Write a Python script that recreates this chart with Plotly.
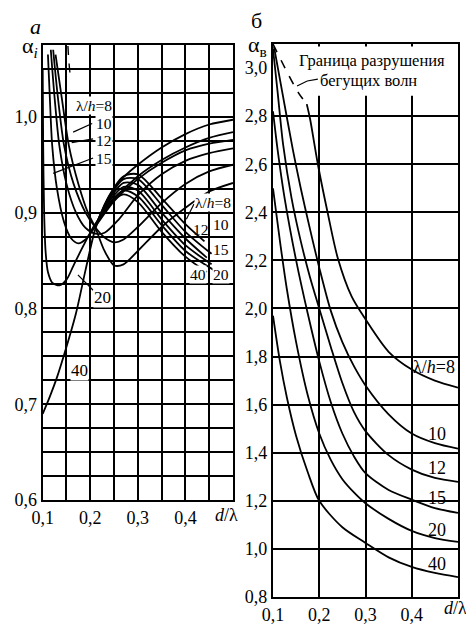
import plotly.graph_objects as go

FONT = "Liberation Serif"

# ---------------- panel a (left): alpha_i vs d/lambda ----------------
left_x_ticks = [0.1, 0.2, 0.3, 0.4]
left_x_ticktext = ["0,1", "0,2", "0,3", "0,4"]
left_y_ticks = [0.6, 0.7, 0.8, 0.9, 1.0]
left_y_ticktext = ["0,6", "0,7", "0,8", "0,9", "1,0"]

# family with a minimum (descending from upper left, rising to the right)
u8_x = [0.127, 0.14, 0.155, 0.175, 0.195, 0.21, 0.23, 0.25, 0.27, 0.3, 0.35, 0.4, 0.45, 0.5]
u8_y = [1.065, 1.02, 0.97, 0.93, 0.9, 0.885, 0.86, 0.845, 0.846, 0.86, 0.885, 0.905, 0.922, 0.931]
u10_x = [0.122, 0.132, 0.145, 0.165, 0.19, 0.21, 0.23, 0.25, 0.27, 0.3, 0.35, 0.4, 0.45, 0.5]
u10_y = [1.07, 1.02, 0.97, 0.93, 0.9, 0.885, 0.874, 0.869, 0.872, 0.885, 0.91, 0.93, 0.943, 0.95]
u12_x = [0.117, 0.125, 0.135, 0.15, 0.17, 0.19, 0.21, 0.23, 0.26, 0.3, 0.35, 0.4, 0.45, 0.5]
u12_y = [1.07, 1.02, 0.97, 0.93, 0.9, 0.884, 0.878, 0.879, 0.893, 0.918, 0.94, 0.954, 0.962, 0.967]
u15_x = [0.111, 0.115, 0.12, 0.13, 0.145, 0.16, 0.175, 0.19, 0.21, 0.25, 0.3, 0.35, 0.4, 0.45, 0.5]
u15_y = [1.065, 1.02, 0.97, 0.925, 0.89, 0.873, 0.868, 0.872, 0.885, 0.912, 0.935, 0.952, 0.965, 0.972, 0.976]
u20_x = [0.1, 0.101, 0.103, 0.106, 0.111, 0.12, 0.135, 0.15, 0.165, 0.185, 0.21, 0.25, 0.3, 0.35, 0.4, 0.45, 0.5]
u20_y = [1.05, 0.97, 0.9, 0.86, 0.838, 0.827, 0.824, 0.83, 0.845, 0.865, 0.888, 0.914, 0.938, 0.955, 0.968, 0.978, 0.984]
u40_x = [0.1, 0.115, 0.13, 0.15, 0.17, 0.19, 0.21, 0.23, 0.25, 0.27, 0.3, 0.35, 0.4, 0.45, 0.5]
u40_y = [0.69, 0.708, 0.728, 0.76, 0.795, 0.84, 0.882, 0.908, 0.925, 0.937, 0.95, 0.968, 0.982, 0.992, 0.997]

# family falling to the right (labelled at the right edge)
d_x = [0.21, 0.24, 0.27, 0.3, 0.35, 0.4]
d8_y = [0.885, 0.918, 0.938, 0.94, 0.915, 0.888]
d10_y = [0.885, 0.916, 0.935, 0.935, 0.908, 0.88]
d12_y = [0.885, 0.914, 0.931, 0.929, 0.9, 0.873]
d15_y = [0.885, 0.912, 0.927, 0.923, 0.893, 0.866]
d20_y = [0.885, 0.91, 0.923, 0.917, 0.887, 0.86]
d40_y = [0.885, 0.908, 0.919, 0.911, 0.88, 0.854]
d_end_x = [0.44, 0.455, 0.445, 0.455, 0.46, 0.445]
d_end_y = [0.87, 0.857, 0.853, 0.846, 0.84, 0.838]

# breaking boundary (dashed) in panel a
a_bound_x = [0.153, 0.155, 0.158]
a_bound_y = [1.074, 1.058, 1.042]

# ---------------- panel б (right): alpha_v vs d/lambda ----------------
right_x_ticks = [0.1, 0.2, 0.3, 0.4]
right_x_ticktext = ["0,1", "0,2", "0,3", "0,4"]
right_y_ticks = [0.8, 1.0, 1.2, 1.4, 1.6, 1.8, 2.0, 2.2, 2.4, 2.6, 2.8, 3.0]
right_y_ticktext = ["0,8", "1,0", "1,2", "1,4", "1,6", "1,8", "2,0", "2,2", "2,4", "2,6", "2,8", "3,0"]

v8_x = [0.173, 0.18, 0.197, 0.218, 0.24, 0.27, 0.3, 0.35, 0.4, 0.45, 0.5]
v8_y = [2.85, 2.79, 2.6, 2.4, 2.21, 2.05, 1.955, 1.82, 1.746, 1.70, 1.671]
v10_x = [0.102, 0.12, 0.143, 0.16, 0.18, 0.2, 0.225, 0.25, 0.275, 0.3, 0.35, 0.4, 0.45, 0.5]
v10_y = [3.09, 2.9, 2.66, 2.5, 2.33, 2.17, 1.99, 1.86, 1.76, 1.68, 1.56, 1.48, 1.44, 1.417]
v12_x = [0.1, 0.11, 0.122, 0.14, 0.16, 0.18, 0.2, 0.225, 0.25, 0.275, 0.3, 0.35, 0.4, 0.45, 0.5]
v12_y = [3.08, 2.9, 2.68, 2.46, 2.28, 2.13, 2.0, 1.84, 1.69, 1.57, 1.49, 1.39, 1.33, 1.295, 1.279]
v15_x = [0.1, 0.11, 0.125, 0.15, 0.175, 0.2, 0.225, 0.25, 0.275, 0.3, 0.35, 0.4, 0.45, 0.5]
v15_y = [2.82, 2.66, 2.46, 2.2, 1.98, 1.78, 1.61, 1.48, 1.385, 1.315, 1.245, 1.205, 1.17, 1.15]
v20_x = [0.1, 0.115, 0.13, 0.15, 0.175, 0.2, 0.225, 0.25, 0.275, 0.3, 0.35, 0.4, 0.45, 0.5]
v20_y = [2.5, 2.28, 2.08, 1.86, 1.64, 1.48, 1.37, 1.29, 1.235, 1.19, 1.125, 1.075, 1.045, 1.029]
v40_x = [0.1, 0.115, 0.13, 0.15, 0.175, 0.2, 0.25, 0.3, 0.35, 0.4, 0.45, 0.5]
v40_y = [1.97, 1.78, 1.63, 1.47, 1.32, 1.2, 1.09, 1.025, 0.965, 0.925, 0.9, 0.883]

b_bound_x = [0.1, 0.126, 0.154, 0.173]
b_bound_y = [3.1, 3.0, 2.9, 2.85]

LW = 1.8
fig = go.Figure()


def line(x, y, xa="x", ya="y", dash="solid", width=LW):
    fig.add_trace(go.Scatter(x=x, y=y, mode="lines", xaxis=xa, yaxis=ya,
                             line=dict(color="black", width=width, dash=dash, shape="spline", smoothing=0.8),
                             hoverinfo="skip", showlegend=False))


for xs, ys in [(u8_x, u8_y), (u10_x, u10_y), (u12_x, u12_y), (u15_x, u15_y), (u20_x, u20_y), (u40_x, u40_y)]:
    line(xs, ys)
for ys, ex, ey in zip([d8_y, d10_y, d12_y, d15_y, d20_y, d40_y], d_end_x, d_end_y):
    line(d_x + [ex], ys + [ey])
line(a_bound_x, a_bound_y, dash="dash", width=1.4)

# leader lines panel a
for xs, ys in [([0.164, 0.204], [0.984, 0.993]), ([0.161, 0.206], [0.973, 0.977]),
               ([0.122, 0.206], [0.941, 0.957]), ([0.174, 0.206], [0.835, 0.819]),
               ([0.402, 0.418], [0.893, 0.909])]:
    fig.add_trace(go.Scatter(x=xs, y=ys, mode="lines", line=dict(color="black", width=1.2),
                             hoverinfo="skip", showlegend=False))

for xs, ys in [(v8_x, v8_y), (v10_x, v10_y), (v12_x, v12_y), (v15_x, v15_y), (v20_x, v20_y), (v40_x, v40_y)]:
    line(xs, ys, "x2", "y2")
line(b_bound_x, b_bound_y, "x2", "y2", dash="dash", width=1.6)
fig.add_trace(go.Scatter(x=[0.152, 0.174, 0.197], y=[2.925, 2.946, 2.954], mode="lines", xaxis="x2", yaxis="y2",
                         line=dict(color="black", width=1.2), hoverinfo="skip", showlegend=False))

# the page body has an 8 px margin: lay out in screen pixels minus that offset
OFF = 8
W, H = 474 - OFF, 628 - OFF


def px_x(p):
    return (p - OFF) / W


def px_y(p):
    return 1 - (p - OFF) / H


axis_common = dict(showline=True, mirror=True, linecolor="black", linewidth=2.2,
                   showgrid=True, gridcolor="black", gridwidth=1.7, zeroline=False, ticks="",
                   tickfont=dict(family=FONT, size=18, color="black"), automargin=False, fixedrange=True)

fig.update_layout(
    width=W, height=H, margin=dict(l=0, r=0, t=0, b=0),
    paper_bgcolor="white", plot_bgcolor="white", showlegend=False,
    xaxis=dict(domain=[px_x(42.7), px_x(233)], range=[0.1, 0.5], tickmode="array",
               tickvals=left_x_ticks, ticktext=left_x_ticktext, anchor="y",
               minor=dict(tickmode="linear", tick0=0.1, dtick=0.05, showgrid=True, gridcolor="black", gridwidth=1.7),
               **axis_common),
    yaxis=dict(domain=[px_y(500), px_y(45)], range=[0.6, 1.075], tickmode="array",
               tickvals=left_y_ticks, ticktext=left_y_ticktext, anchor="x",
               minor=dict(tickmode="linear", tick0=0.6, dtick=0.025, showgrid=True, gridcolor="black", gridwidth=1.7),
               **axis_common),
    xaxis2=dict(domain=[px_x(273), px_x(458)], range=[0.1, 0.5], tickmode="array",
                tickvals=right_x_ticks, ticktext=right_x_ticktext, anchor="y2",
                **axis_common),
    yaxis2=dict(domain=[px_y(597), px_y(44)], range=[0.8, 3.1], tickmode="array",
                tickvals=right_y_ticks, ticktext=right_y_ticktext, anchor="x2",
                **axis_common),
)

# mask grid behind the boundary caption in panel б
fig.add_shape(type="rect", xref="x2", yref="y2", x0=0.1, x1=0.5, y0=2.885, y1=3.09,
              fillcolor="white", line=dict(width=0), layer="between")


def note(text, x, y, xref="x", yref="y", size=18, bg=None, xanchor="center", yanchor="middle"):
    fig.add_annotation(text=text, x=x, y=y, xref=xref, yref=yref, showarrow=False,
                       font=dict(family=FONT, size=size, color="black"),
                       bgcolor=bg, borderpad=0, xanchor=xanchor, yanchor=yanchor)


# panel titles and axis names
note("<i>а</i>", px_x(35), px_y(27), "paper", "paper", size=22)
note("α<sub><i>i</i></sub>", px_x(30), px_y(47), "paper", "paper", size=22)
note("б", px_x(256), px_y(20), "paper", "paper", size=22)
note("α<sub>в</sub>", px_x(257), px_y(46), "paper", "paper", size=22)
note("<i>d</i>/λ", px_x(239), px_y(515), "paper", "paper", xanchor="right")
note("<i>d</i>/λ", px_x(468), px_y(608), "paper", "paper", xanchor="right")

# labels panel a
WB = "white"
LS = 15.5
note("λ/<i>h</i>=8", 0.207, 1.012, bg=WB, size=LS)
note("10", 0.229, 0.993, bg=WB, size=LS)
note("12", 0.229, 0.975, bg=WB, size=LS)
note("15", 0.229, 0.957, bg=WB, size=LS)
note("20", 0.226, 0.811, bg=WB, size=17)
note("40", 0.178, 0.735, bg=WB, size=17)
note("λ/<i>h</i>=8", 0.458, 0.911, bg=WB, size=LS)
note("10", 0.474, 0.888, bg=WB, size=LS)
note("12", 0.432, 0.882, size=LS)
note("15", 0.474, 0.862, bg=WB, size=LS)
note("40", 0.426, 0.835, bg=WB, size=LS)
note("20", 0.475, 0.835, bg=WB, size=LS)

# labels panel б
note("λ/<i>h</i>=8", 0.448, 1.756, "x2", "y2")
note("10", 0.455, 1.479, "x2", "y2")
note("12", 0.455, 1.335, "x2", "y2")
note("15", 0.455, 1.212, "x2", "y2")
note("20", 0.455, 1.079, "x2", "y2")
note("40", 0.455, 0.938, "x2", "y2")
note("Граница разрушения", 0.315, 3.03, "x2", "y2", size=16.5)
note("бегущих волн", 0.306, 2.95, "x2", "y2", size=16.5)

fig.write_html("out.html")
